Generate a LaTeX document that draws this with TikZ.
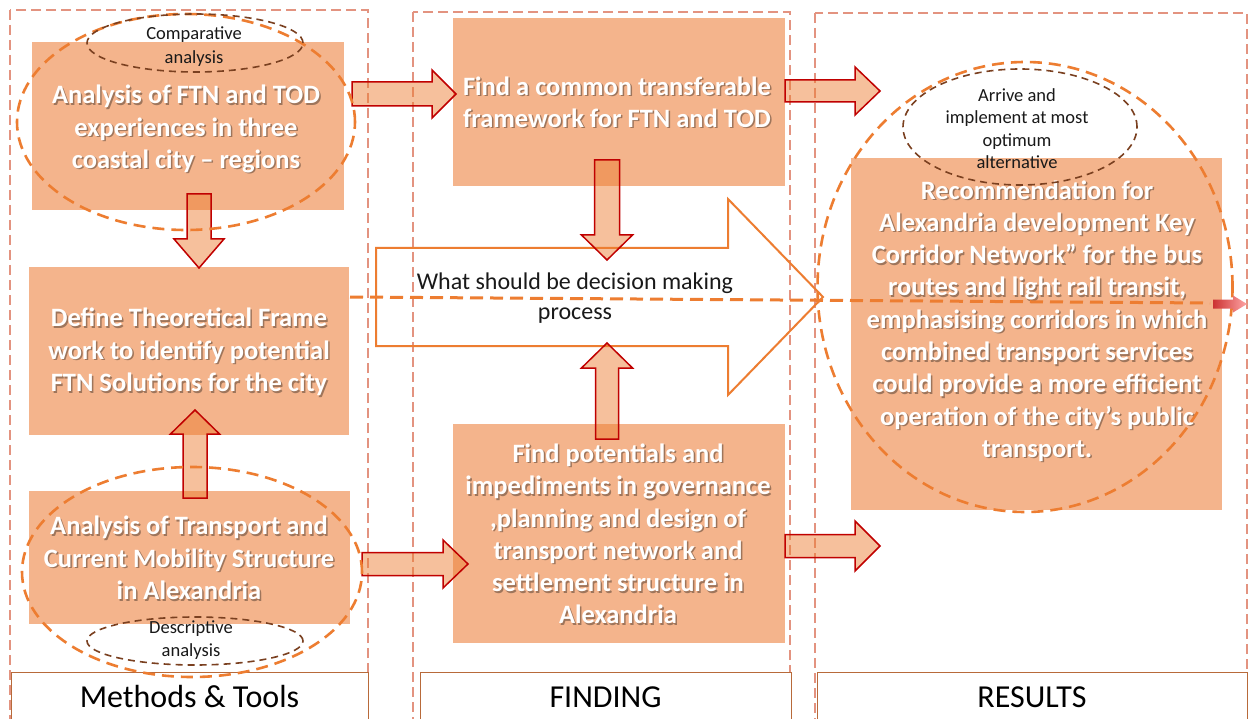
\documentclass[tikz,border=0pt]{standalone}
\usepackage{fontspec}
\setmainfont{Carlito}
\usetikzlibrary{shapes.geometric}

\definecolor{boxfill}{HTML}{F4B48C}
\definecolor{accent}{HTML}{ED7D31}
\definecolor{colline}{HTML}{E39380}
\definecolor{darkbrown}{HTML}{7A4020}
\definecolor{arrowedge}{HTML}{C00000}
\definecolor{labeledge}{HTML}{B86A3A}

% Block arrow: style, tail, angle, length, shaft half-width, head half-width, head length
\newcommand\blockarrow[7]{%
  \draw[#1, shift={(#2)}, rotate=#3]
    (0,-#5) -- ({#4-#7},-#5) -- ({#4-#7},-#6) -- (#4,0) --
    ({#4-#7},#6) -- ({#4-#7},#5) -- (0,#5) -- cycle;}

% White bold box text with a soft drop shadow
\newcommand\boxlabel[3]{%
  \node[boxtxt, text=black, opacity=0.35, xshift=1.5pt, yshift=-1.5pt] at #2 {#3};
  \node[boxtxt] (#1) at #2 {#3};}

\begin{document}
\begin{tikzpicture}[x=1pt, y=-1pt,
  column/.style={draw=colline, line width=2.4pt, dash pattern=on 10pt off 5pt},
  stepbox/.style={fill=boxfill, draw=none, inner sep=0pt},
  labelbox/.style={draw=labeledge, line width=0.9pt, fill=white, inner sep=0pt,
    font=\fontsize{32}{36}\selectfont},
  boxtxt/.style={text=white, font=\fontsize{26.5}{32.3}\selectfont\bfseries,
    align=center, inner sep=0pt},
  smalltxt/.style={text=black!90, font=\fontsize{18.5}{22.5}\selectfont,
    align=center, inner sep=0pt},
  bigell/.style={ellipse, draw=accent, line width=2.6pt,
    dash pattern=on 12pt off 7pt, inner sep=0pt},
  smallell/.style={ellipse, draw=darkbrown, line width=1.6pt,
    dash pattern=on 7pt off 5pt, inner sep=0pt},
  barrow/.style={draw=arrowedge, line width=1.5pt, fill=accent, fill opacity=0.48},
  hollow/.style={draw=accent, line width=2pt, line join=miter},
  midline/.style={draw=accent, line width=3pt, dash pattern=on 13pt off 7pt}]

\useasboundingbox (0,0) rectangle (1252,719);
\clip (0,0) rectangle (1252,719);
\fill[white] (0,0) rectangle (1252,719);

% three dashed columns
\draw[column] (10,10) rectangle (368,740);
\draw[column] (413,12) rectangle (790,740);
\draw[column] (815,13) rectangle (1247,740);

% column captions
\node[labelbox, minimum width=357pt, minimum height=50pt] (mt) at (189.5,697) {Methods \& Tools};
\node[labelbox, minimum width=371pt, minimum height=50pt] (fd) at (605.5,697) {FINDING};
\node[labelbox, minimum width=430pt, minimum height=50pt] (rs) at (1032,697) {RESULTS};

% step boxes
\node[stepbox, minimum width=312pt, minimum height=168pt] (A) at (188,126) {};
\node[stepbox, minimum width=320pt, minimum height=168pt] (B) at (189,351) {};
\node[stepbox, minimum width=321pt, minimum height=133pt] (C) at (189.5,557.5) {};
\node[stepbox, minimum width=332pt, minimum height=168pt] (D) at (619,102) {};
\node[stepbox, minimum width=332pt, minimum height=219pt] (E) at (619,533.5) {};
\node[stepbox, minimum width=371pt, minimum height=352pt] (F) at (1036.5,334) {};

% decision-making arrow (outline only)
\draw[hollow] (376,248) -- (728,248) -- (728,199) -- (823,297) -- (728,395)
  -- (728,346) -- (376,346) -- cycle;
\node[text=black!90, font=\fontsize{24}{30}\selectfont, align=center, inner sep=0pt]
  (dm) at (575,298) {What should be decision making\\process};

% tails of the block arrows
\coordinate (tAD) at (352,94);
\coordinate (tDF) at (785,91);
\coordinate (tCE) at (362,564);
\coordinate (tER) at (785,546);
\coordinate (tAB) at (199,194);
\coordinate (tCB) at (195,498);
\coordinate (tDM) at (607,160);
\coordinate (tEM) at (607,439);

\blockarrow{barrow}{tAD}{0}{104}{12}{24}{24}
\blockarrow{barrow}{tDF}{0}{95}{11}{24}{25}
\blockarrow{barrow}{tCE}{0}{106}{11.5}{24}{25}
\blockarrow{barrow}{tER}{0}{95}{11.5}{25}{25}
\blockarrow{barrow}{tAB}{-90}{74}{12}{25}{29}
\blockarrow{barrow}{tCB}{90}{88}{12}{24.5}{24}
\blockarrow{barrow}{tDM}{-90}{100}{12.5}{25.5}{25}
\blockarrow{barrow}{tEM}{90}{96}{11.5}{25.5}{25}

% box texts
\boxlabel{At}{(186,129)}{Analysis of FTN and TOD\\experiences in three\\coastal city -- regions}
\boxlabel{Bt}{(189,352)}{Define Theoretical Frame\\work to identify potential\\FTN Solutions for the city}
\boxlabel{Ct}{(189,558)}{Analysis of Transport and\\Current Mobility Structure\\in Alexandria}
\boxlabel{Dt}{(617,102)}{Find a common transferable\\framework for FTN and TOD}
\boxlabel{Et}{(618,534)}{Find potentials and\\impediments in governance\\,planning and design of\\transport network and\\settlement structure in\\Alexandria}
\boxlabel{Ft}{(1037,321)}{Recommendation for\\Alexandria development Key\\Corridor Network” for the bus\\routes and light rail transit,\\emphasising corridors in which\\combined transport services\\could provide a more efficient\\operation of the city’s public\\transport.}

% dashed ellipses
\node[bigell, minimum width=338pt, minimum height=216pt] (eA) at (186,122) {};
\node[bigell, minimum width=340pt, minimum height=210pt] (eC) at (192,572) {};
\node[bigell, minimum width=415pt, minimum height=450pt] (eF) at (1025,287) {};
\node[smallell, minimum width=216pt, minimum height=58pt] (sA) at (195,43) {};
\node[smallell, minimum width=216pt, minimum height=48pt] (sC) at (195,641) {};
\node[smallell, minimum width=234pt, minimum height=116pt] (sF) at (1020,127) {};

\node[smalltxt, font=\fontsize{18.5}{24}\selectfont] (sAt) at (194,47) {Comparative\\analysis};
\node[smalltxt] (sCt) at (191,640) {Descriptive\\analysis};
\node[smalltxt] (sFt) at (1017,128.5) {Arrive and\\implement at most\\optimum\\alternative};

% decision line running through to the results
\coordinate (ml0) at (350,297);
\coordinate (ml1) at (1210,303);
\draw[midline] (ml0) -- (ml1);
\coordinate (tRA) at (1213,304);
\blockarrow{draw=none, left color=red!75!black!80, right color=red!35}{tRA}{0}{34}{4.5}{8.5}{14}

\end{tikzpicture}
\end{document}
